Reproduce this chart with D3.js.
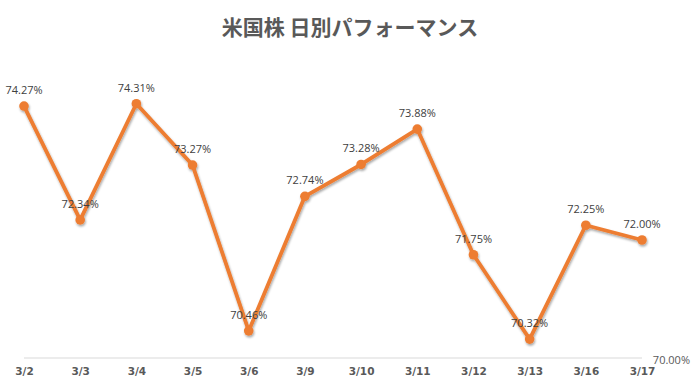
<!DOCTYPE html>
<html lang="ja">
<head>
<meta charset="utf-8">
<script src="https://d3js.org/d3.v7.min.js"></script>
<style>
	body { margin: 0; background: #fff; }
	svg { display: block; }
</style>
<title>米国株 日別パフォーマンス</title>
</head>
<body>
<script>
	// data
	var dates = ["3/2", "3/3", "3/4", "3/5", "3/6", "3/9", "3/10", "3/11", "3/12", "3/13", "3/16", "3/17"];
	var values = [74.27, 72.34, 74.31, 73.27, 70.46, 72.74, 73.28, 73.88, 71.75, 70.32, 72.25, 72.00];
	var yMin = 70, yMax = 75;

	var w = 698, h = 392;

	var svg = d3.select("body").append("svg")
		.attr("width", w)
		.attr("height", h);

	var defs = svg.append("defs");
	var f = defs.append("filter").attr("id", "shadow")
		.attr("x", "-10%").attr("y", "-10%").attr("width", "120%").attr("height", "130%");
	f.append("feDropShadow")
		.attr("dx", 0.8).attr("dy", 1.8).attr("stdDeviation", 1.3)
		.attr("flood-color", "#000").attr("flood-opacity", 0.35);

	var x = d3.scalePoint().domain(dates).range([24, 642]);
	var y = d3.scaleLinear().domain([yMin, yMax]).range([358, 63]);

	// title
	svg.append("text")
		.attr("x", 350).attr("y", 35)
		.attr("text-anchor", "middle")
		.style("font-family", "'Noto Sans CJK JP', sans-serif")
		.style("font-size", "21px")
		.style("font-weight", "bold")
		.style("fill", "#595959")
		.text("米国株 日別パフォーマンス");

	// baseline
	svg.append("line")
		.attr("x1", x(dates[0])).attr("x2", x(dates[dates.length - 1]))
		.attr("y1", y(yMin)).attr("y2", y(yMin))
		.style("stroke", "#d9d9d9").style("stroke-width", 1);

	svg.append("text")
		.attr("x", 690).attr("y", y(yMin) + 6)
		.attr("text-anchor", "end")
		.style("font-family", "'Open Sans', sans-serif")
		.style("font-size", "11px")
		.style("fill", "#595959")
		.text(d3.format(".2f")(yMin) + "%");

	// x axis labels
	var xAxis = d3.axisBottom(x).tickSize(0).tickPadding(0);
	var gx = svg.append("g")
		.attr("transform", "translate(0," + (y(yMin) + 10) + ")")
		.call(xAxis);
	gx.select(".domain").remove();
	gx.selectAll("text")
		.style("font-family", "'DejaVu Sans', sans-serif")
		.style("font-size", "10.5px")
		.style("font-weight", "bold")
		.style("fill", "#595959");

	var pts = dates.map(function(d, i) { return { date: d, value: values[i] }; });

	var line = d3.line()
		.x(function(d) { return x(d.date); })
		.y(function(d) { return y(d.value); });

	var g = svg.append("g").attr("filter", "url(#shadow)");
	g.append("path")
		.datum(pts)
		.attr("d", line)
		.style("fill", "none")
		.style("stroke", "#ED7D31")
		.style("stroke-width", 3.8)
		.style("stroke-linejoin", "round");

	g.selectAll("circle")
		.data(pts)
		.enter()
		.append("circle")
		.attr("cx", function(d) { return x(d.date); })
		.attr("cy", function(d) { return y(d.value); })
		.attr("r", 4.8)
		.style("fill", "#ED7D31");

	// data labels
	svg.selectAll(".lbl")
		.data(pts)
		.enter()
		.append("text")
		.attr("class", "lbl")
		.attr("x", function(d) { return x(d.date); })
		.attr("y", function(d) { return y(d.value) - 12; })
		.attr("text-anchor", "middle")
		.style("font-family", "'Open Sans', sans-serif")
		.style("font-size", "11px")
		.style("fill", "#404040")
		.text(function(d) { return d3.format(".2f")(d.value) + "%"; });
</script>
</body>
</html>
